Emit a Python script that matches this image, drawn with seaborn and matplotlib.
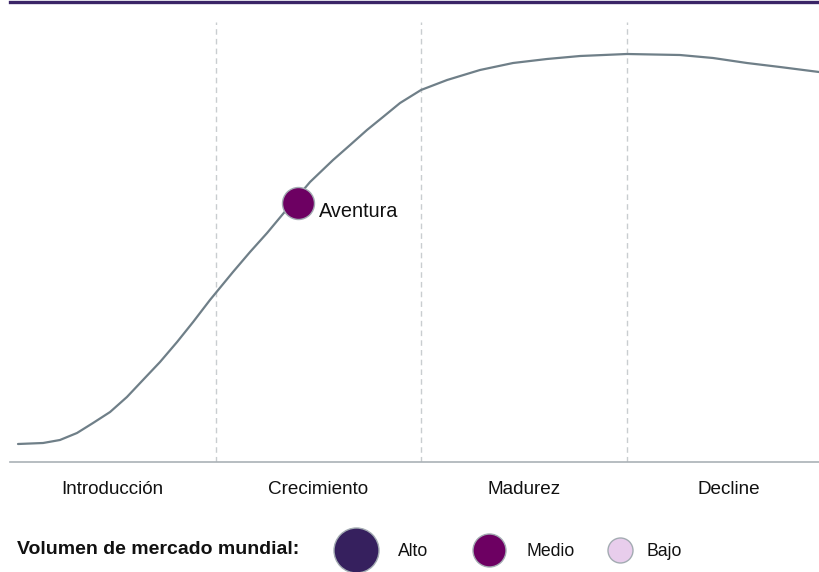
import matplotlib
matplotlib.use("Agg")
import matplotlib.pyplot as plt
import seaborn as sns

# Product life cycle curve (x in stage units, y = height above baseline)
stage_x = [0.039, 0.161, 0.243, 0.326, 0.404, 0.487, 0.569, 0.647, 0.730,
           0.813, 0.891, 0.973, 1.085, 1.168, 1.251, 1.324, 1.460, 1.572,
           1.655, 1.737, 1.815, 1.898, 2.000, 2.127, 2.287, 2.448, 2.613,
           2.774, 3.002, 3.260, 3.421, 3.586, 3.747, 3.937]
curve_y = [18, 19, 22, 29, 39, 50, 65, 82, 100,
           120, 140, 162, 190, 210, 229, 247, 280, 302,
           317, 332, 345, 359, 372, 382, 392, 399, 403,
           406, 408, 407, 404, 399, 395, 390]

stages = ["Introducción", "Crecimiento", "Madurez", "Decline"]

# Products placed on the curve
products = ["Aventura"]
product_x = [1.40]
product_y = [259]
product_volume = ["Medio"]

# Legend
volume_levels = ["Alto", "Medio", "Bajo"]
volume_colors = {"Alto": "#36205e", "Medio": "#6d0062", "Bajo": "#e8cdec"}
volume_diam = {"Alto": 45, "Medio": 33, "Bajo": 25}  # pixels

sns.set_style("white")
plt.rcParams["font.family"] = ["Liberation Sans", "DejaVu Sans"]

fig = plt.figure(figsize=(8.19, 5.72), dpi=100)
ax = fig.add_axes([10 / 819, 110 / 572, 809 / 819, 460 / 572])

sns.lineplot(x=stage_x, y=curve_y, ax=ax, color="#6f7f88", linewidth=1.6,
             sort=False, zorder=2)

# stage separators
for b in range(1, len(stages)):
    ax.vlines(b, 0, 440, colors="#c9cdd0", linestyles=(0, (4, 3)),
              linewidth=1, zorder=1)

for name, px_, py_, vol in zip(products, product_x, product_y, product_volume):
    d = 32 * 0.72
    ax.scatter(px_, py_, s=d ** 2, color=volume_colors[vol],
               edgecolors="#a3abb2", linewidths=1, zorder=3)
    ax.annotate(name, (px_, py_), xytext=(15, -6), textcoords="offset points",
                fontsize=14.3, color="#111111", va="center", ha="left")

ax.set_xlim(0, 809 / 205.5)
ax.set_ylim(0, 460)
ax.set_xticks([i + 0.5 for i in range(len(stages))])
ax.set_xticklabels(stages, fontsize=13.6, color="#111111")
ax.tick_params(axis="x", length=0, pad=14)
ax.set_yticks([])
ax.set_xlabel("")
ax.set_ylabel("")

for side in ["left", "right"]:
    ax.spines[side].set_visible(False)
ax.spines["bottom"].set_color("#aab1b6")
ax.spines["bottom"].set_linewidth(1.2)
ax.spines["top"].set_color("#3b2567")
ax.spines["top"].set_linewidth(2.4)

# legend row, laid out in pixel coordinates
lax = fig.add_axes([0, 0, 1, 1])
lax.set_xlim(0, 819)
lax.set_ylim(572, 0)
lax.axis("off")
lax.text(17, 550, "Volumen de mercado mundial:", fontsize=14, fontweight="bold",
         va="center", ha="left", color="#111111")
circle_cx = [356, 489, 620]
label_x = [398, 527, 647]
for lvl, cx, lx in zip(volume_levels, circle_cx, label_x):
    d = volume_diam[lvl] * 0.72
    lax.scatter(cx, 550, s=d ** 2, color=volume_colors[lvl],
                edgecolors="#a3abb2", linewidths=1, clip_on=False)
    lax.text(lx, 551, lvl, fontsize=12.7, va="center", ha="left",
             color="#111111")

fig.savefig("out.png", dpi=100)
